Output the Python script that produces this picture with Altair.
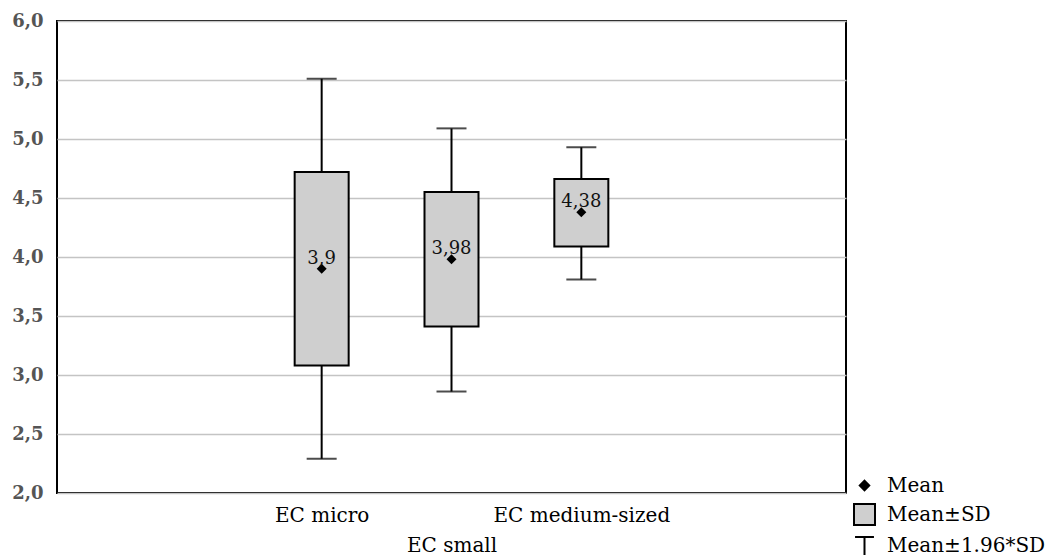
import altair as alt
import pandas as pd

# ---- data ----
categories = ["EC micro", "EC small", "EC medium-sized"]
xpos = [2, 3, 4]
means = [3.90, 3.98, 4.38]
mean_labels = ["3,9", "3,98", "4,38"]
sd_lo = [3.08, 3.41, 4.09]
sd_hi = [4.72, 4.55, 4.66]
ci_lo = [2.29, 2.86, 3.81]
ci_hi = [5.51, 5.09, 4.93]

y_ticks = [2.0, 2.5, 3.0, 3.5, 4.0, 4.5, 5.0, 5.5, 6.0]
x_ticks = [1, 2, 3, 4, 5]

legend_labels = ["Mean", "Mean±SD", "Mean±1.96*SD"]
legend_fills = ["black", "#cfcfcf", "transparent"]
legend_strokes = ["black", "black", "black"]
legend_shapes = [
    "M0,-0.45L0.45,0L0,0.45L-0.45,0Z",
    "square",
    "M-0.9,-0.8L0.9,-0.8M0,-0.8L0,0.9",
]

FONT = "DejaVu Serif"

df = pd.DataFrame({
    "cat": categories, "x": xpos, "mean": means, "lab": mean_labels,
    "sd_lo": sd_lo, "sd_hi": sd_hi, "ci_lo": ci_lo, "ci_hi": ci_hi,
})
leg_df = pd.DataFrame({"item": legend_labels})

x_label_expr = (
    "datum.value == 2 ? 'EC micro' : "
    "datum.value == 3 ? ['', 'EC small'] : "
    "datum.value == 4 ? 'EC medium-sized' : ''"
)

x_enc = alt.X(
    "x:Q",
    scale=alt.Scale(domain=[0, 6], nice=False, zero=False),
    axis=alt.Axis(
        values=x_ticks, labelExpr=x_label_expr, title=None, grid=False,
        domain=False, ticks=False, labelFont=FONT, labelFontSize=20,
        labelColor="black", labelPadding=12, labelLineHeight=30,
        labelOverlap=False, labelFlush=False, labelBaseline="top",
    ),
)
y_scale = alt.Scale(domain=[2, 6], nice=False, zero=False)
y_axis = alt.Axis(
    values=y_ticks, title=None, grid=True, gridColor="#c4c4c4", gridWidth=1.5,
    domain=False, ticks=False, labelFont=FONT, labelFontSize=18,
    labelFontWeight="bold", labelColor="#555555", labelPadding=14,
    labelExpr="replace(format(datum.value, '.1f'), '.', ',')",
    labelOverlap=False, labelFlush=False,
)

base = alt.Chart(df)

whisker = base.mark_rule(color="black", strokeWidth=2).encode(
    x=x_enc,
    y=alt.Y("ci_lo:Q", scale=y_scale, axis=y_axis),
    y2="ci_hi:Q",
)
cap_lo = base.mark_tick(orient="horizontal", size=30, thickness=2, color="black").encode(
    x="x:Q", y="ci_lo:Q")
cap_hi = base.mark_tick(orient="horizontal", size=30, thickness=2, color="black").encode(
    x="x:Q", y="ci_hi:Q")
box = base.mark_bar(size=54, fill="#cfcfcf", stroke="black", strokeWidth=2,
                    orient="vertical").encode(
    x="x:Q", y="sd_lo:Q", y2="sd_hi:Q")
mean_pt = base.mark_point(shape="diamond", filled=True, color="black", size=100,
                          opacity=1).encode(x="x:Q", y="mean:Q")
mean_txt = base.mark_text(font=FONT, fontSize=18, color="#111111", dy=-5,
                          baseline="alphabetic", align="center").encode(
    x="x:Q", y="mean:Q", text="lab:N")

def make_legend():
    return alt.Legend(
        orient="none", legendX=796, legendY=453, title=None,
        labelFont=FONT, labelFontSize=20, labelColor="black",
        labelOffset=11, rowPadding=4, symbolSize=441,
        symbolStrokeWidth=2, symbolOpacity=1, padding=0, labelLimit=0)

legend_layer = alt.Chart(leg_df).mark_point(
    filled=True, opacity=0, strokeWidth=2
).encode(
    x=alt.value(0), y=alt.value(0),
    shape=alt.Shape("item:N", scale=alt.Scale(domain=legend_labels, range=legend_shapes),
                    legend=make_legend()),
    fill=alt.Fill("item:N", scale=alt.Scale(domain=legend_labels, range=legend_fills),
                  legend=make_legend()),
    stroke=alt.Stroke("item:N", scale=alt.Scale(domain=legend_labels, range=legend_strokes),
                      legend=make_legend()),
)

chart = alt.layer(whisker, cap_lo, cap_hi, box, mean_pt, mean_txt, legend_layer).properties(
    width=789, height=472,
    autosize="none",
    padding={"left": 49, "top": 13, "right": 206, "bottom": 64},
    background="white",
).configure_view(stroke="black", strokeWidth=2)

chart.save("out.html", embed_options={"renderer": "svg", "actions": False})
